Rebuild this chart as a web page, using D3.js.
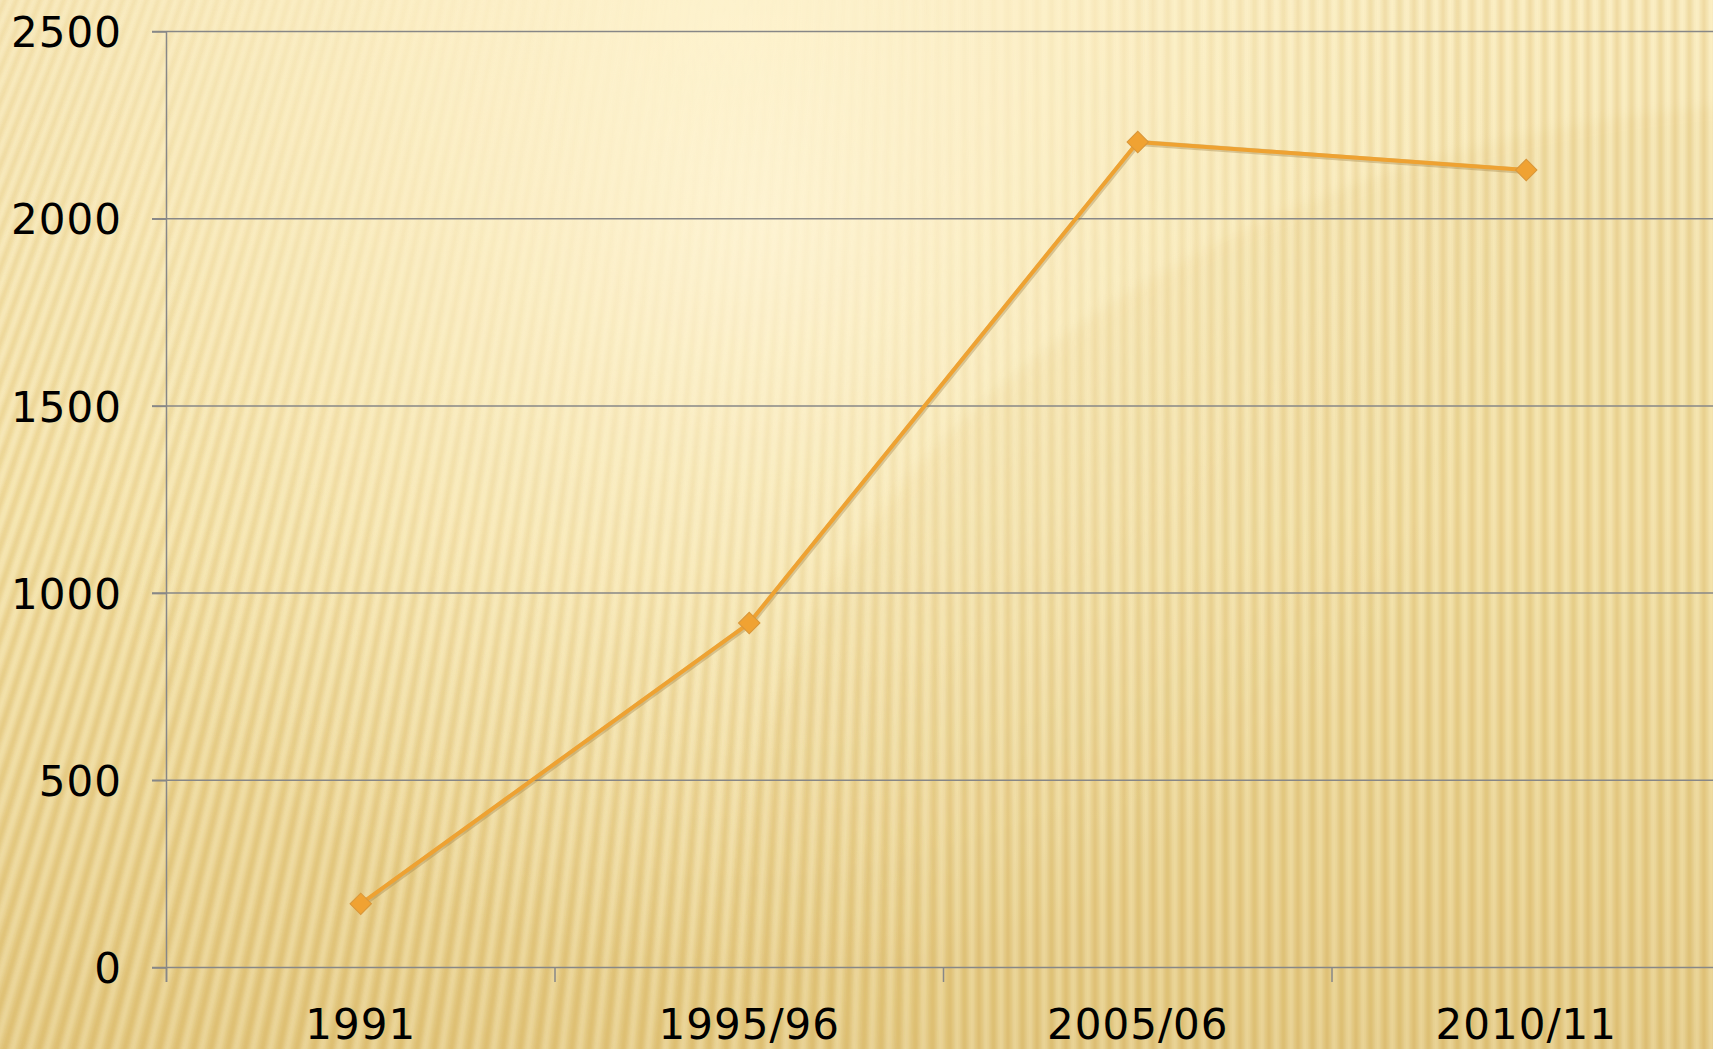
<!DOCTYPE html>
<html>
<head>
<meta charset="utf-8">
<script src="https://cdn.jsdelivr.net/npm/d3@7"></script>
<style>
  body { margin: 0; background: #f6e4ad; overflow: hidden; }
  svg { display: block; }
  .tick text { font-family: "DejaVu Sans", sans-serif; font-size: 42px; fill: #000; letter-spacing: 1px; }
</style>
</head>
<body>
<script>
// data
var categories = ["1991", "1995/96", "2005/06", "2010/11"];
var values = [170, 920, 2205, 2130];
var yTicks = [0, 500, 1000, 1500, 2000, 2500];

var width = 1713, height = 1049;
var plot = {left: 166.5, top: 31.5, bottom: 967.5, step: 388.5};

var svg = d3.select("body").append("svg")
    .attr("width", width)
    .attr("height", height);

var defs = svg.append("defs");

// background gradients
var base = defs.append("linearGradient").attr("id", "base")
    .attr("x1", 0).attr("y1", 0).attr("x2", 0).attr("y2", 1);
base.append("stop").attr("offset", 0).attr("stop-color", "#fbedc1");
base.append("stop").attr("offset", 0.5).attr("stop-color", "#f5e3aa");
base.append("stop").attr("offset", 1).attr("stop-color", "#e4c983");

var glow = defs.append("radialGradient").attr("id", "glow")
    .attr("gradientUnits", "userSpaceOnUse")
    .attr("cx", 760).attr("cy", 220).attr("r", 760);
glow.append("stop").attr("offset", 0).attr("stop-color", "#fff6d8").attr("stop-opacity", 0.85);
glow.append("stop").attr("offset", 0.6).attr("stop-color", "#fff4d0").attr("stop-opacity", 0.35);
glow.append("stop").attr("offset", 1).attr("stop-color", "#fff4d0").attr("stop-opacity", 0);

var maskGrad = defs.append("radialGradient").attr("id", "maskGrad")
    .attr("gradientUnits", "userSpaceOnUse")
    .attr("cx", 720).attr("cy", 20).attr("r", 900);
maskGrad.append("stop").attr("offset", 0).attr("stop-color", "#000");
maskGrad.append("stop").attr("offset", 0.3).attr("stop-color", "#333");
maskGrad.append("stop").attr("offset", 0.75).attr("stop-color", "#ddd");
maskGrad.append("stop").attr("offset", 1).attr("stop-color", "#fff");

defs.append("mask").attr("id", "stripeMask")
  .append("rect").attr("width", width).attr("height", height).attr("fill", "url(#maskGrad)");

defs.append("filter").attr("id", "soft").attr("x", -0.1).attr("y", -0.1).attr("width", 1.2).attr("height", 1.2)
  .append("feGaussianBlur").attr("stdDeviation", 2.4);
defs.append("filter").attr("id", "softBig").attr("x", -0.2).attr("y", -0.2).attr("width", 1.4).attr("height", 1.4)
  .append("feGaussianBlur").attr("stdDeviation", 6);

var bg = svg.append("g").attr("class", "background");
bg.append("rect").attr("width", width).attr("height", height).attr("fill", "url(#base)");
bg.append("rect").attr("width", width).attr("height", height).attr("fill", "url(#glow)");

// darker swell on the right
bg.append("ellipse")
    .attr("cx", 1850).attr("cy", 900).attr("rx", 1108).attr("ry", 800)
    .attr("fill", "#e3c67f").attr("opacity", 0.15)
    .attr("filter", "url(#softBig)");

// the fan of stripes, tilted on the left and upright on the right
function tilt(x) {
    return 0.37 * Math.max(0, 1 - (x + 100) / 1050);
}
var stripeX = d3.range(-500, 1800, 14.5);
var stripes = bg.append("g").attr("mask", "url(#stripeMask)");
stripes.append("g").attr("filter", "url(#soft)")
  .selectAll("line").data(stripeX).enter().append("line")
    .attr("x1", function (d) { return d + tilt(d) * 574; })
    .attr("y1", -50)
    .attr("x2", function (d) { return d - tilt(d) * 575; })
    .attr("y2", height + 50)
    .attr("stroke", "#c99c40")
    .attr("stroke-opacity", 0.27)
    .attr("stroke-width", 6.5);
stripes.append("g").attr("filter", "url(#soft)")
  .selectAll("line").data(stripeX).enter().append("line")
    .attr("x1", function (d) { return d + 7.25 + tilt(d) * 574; })
    .attr("y1", -50)
    .attr("x2", function (d) { return d + 7.25 - tilt(d) * 575; })
    .attr("y2", height + 50)
    .attr("stroke", "#fff8e0")
    .attr("stroke-opacity", 0.34)
    .attr("stroke-width", 5);

// scales
var x = d3.scaleBand()
    .domain(categories)
    .range([plot.left, plot.left + plot.step * categories.length]);
var y = d3.scaleLinear()
    .domain([0, 2500])
    .range([plot.bottom, plot.top]);

var axisColor = "#878787";

// gridlines
svg.append("g").selectAll("line").data(yTicks).enter().append("line")
    .attr("x1", plot.left - 14.5)
    .attr("x2", width)
    .attr("y1", function (d) { return y(d); })
    .attr("y2", function (d) { return y(d); })
    .attr("stroke", axisColor)
    .attr("stroke-width", 1.5);

// y axis
var yAxis = svg.append("g")
    .attr("transform", "translate(" + plot.left + ",0)")
    .call(d3.axisLeft(y).tickValues(yTicks).tickFormat(d3.format("d"))
        .tickSizeInner(14.5).tickSizeOuter(0).tickPadding(30));
yAxis.select(".domain").remove();
yAxis.selectAll(".tick line").attr("stroke", axisColor).attr("stroke-width", 1.5);
yAxis.selectAll(".tick text").attr("dy", "0.36em");
svg.append("line")
    .attr("x1", plot.left).attr("x2", plot.left)
    .attr("y1", plot.top).attr("y2", plot.bottom + 14.5)
    .attr("stroke", axisColor).attr("stroke-width", 1.5);

// x axis: labels centred in each band, ticks on band edges
var xAxis = svg.append("g")
    .attr("transform", "translate(0," + plot.bottom + ")")
    .call(d3.axisBottom(x).tickSize(0).tickPadding(42));
xAxis.select(".domain").remove();
svg.append("g").selectAll("line").data(categories).enter().append("line")
    .attr("x1", function (d) { return x(d); })
    .attr("x2", function (d) { return x(d); })
    .attr("y1", plot.bottom)
    .attr("y2", plot.bottom + 14.5)
    .attr("stroke", axisColor)
    .attr("stroke-width", 1.5);

// series
var points = categories.map(function (c, i) { return {cat: c, v: values[i]}; });
var line = d3.line()
    .x(function (d) { return x(d.cat) + x.bandwidth() / 2; })
    .y(function (d) { return y(d.v); });

svg.append("path")
    .attr("d", line(points))
    .attr("fill", "none")
    .attr("stroke", "#9a7a40")
    .attr("stroke-opacity", 0.35)
    .attr("stroke-width", 6)
    .attr("transform", "translate(0.8,1)");
svg.append("path")
    .attr("d", line(points))
    .attr("fill", "none")
    .attr("stroke", "#eea232")
    .attr("stroke-width", 4)
    .attr("stroke-linejoin", "round");

var diamond = d3.symbol().type(d3.symbolSquare).size(230);
svg.selectAll(".marker").data(points).enter().append("path")
    .attr("class", "marker")
    .attr("d", diamond)
    .attr("transform", function (d) {
        return "translate(" + (x(d.cat) + x.bandwidth() / 2) + "," + y(d.v) + ") rotate(45)";
    })
    .attr("fill", "#f0a232")
    .attr("stroke", "#d8963a")
    .attr("stroke-width", 1);
</script>
</body>
</html>
